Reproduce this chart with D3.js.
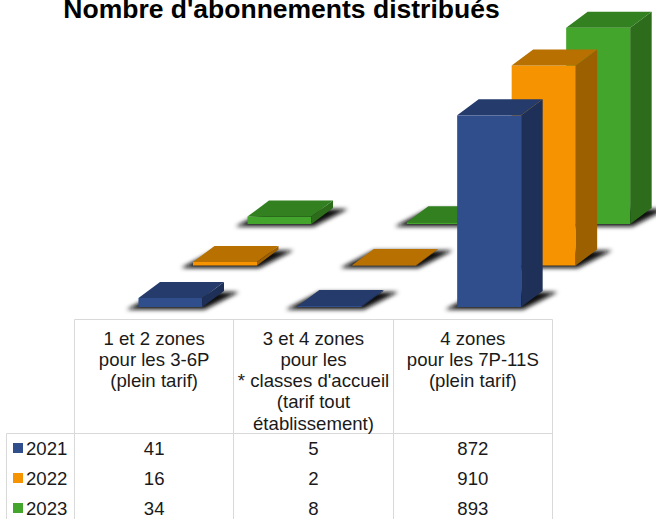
<!DOCTYPE html>
<html>
<head>
<meta charset="utf-8">
<script src="https://cdnjs.cloudflare.com/ajax/libs/d3/7.8.5/d3.min.js"></script>
<style>
  html, body { margin: 0; padding: 0; background: #fff; overflow: hidden; }
  text { font-family: "Liberation Sans", Arial, sans-serif; fill: #1a1a1a; }
</style>
</head>
<body>
<div id="chart"></div>
<script>
const categories = ["1 et 2 zones", "3 et 4 zones", "4 zones"];
const categoryLabels = [
  ["1 et 2 zones", "pour les 3-6P", "(plein tarif)"],
  ["3 et 4 zones", "pour les", "* classes d'accueil", "(tarif tout", "établissement)"],
  ["4 zones", "pour les 7P-11S", "(plein tarif)"]
];
const series = ["2021", "2022", "2023"];
const values2021 = [41, 5, 872];
const values2022 = [16, 2, 910];
const values2023 = [34, 8, 893];
const title = "Nombre d'abonnements distribués";

const seriesValues = [values2021, values2022, values2023];
const front = ["#2f4e8b", "#f59300", "#43a52c"];
const top_ = ["#243b6c", "#b87000", "#32801f"];
const side = ["#1f3058", "#9c6000", "#2c6c1a"];

const width = 656, height = 519;
const floorY = 307, barWidth = 64, depthX = 21.5, depthY = -16, barInset = 64;
const tableTop = 319.5, headerBottom = 433.5, tableLeft = 74.5, tableRight = 552.5, legendLeft = 6.5;

const svg = d3.select("#chart").append("svg")
  .attr("width", width)
  .attr("height", height)
  .style("display", "block");

const defs = svg.append("defs");
defs.append("filter").attr("id", "blur")
  .attr("x", "-30%").attr("y", "-60%").attr("width", "160%").attr("height", "220%")
  .append("feGaussianBlur").attr("stdDeviation", 2.2);

const x = d3.scaleBand().domain(categories).range([tableLeft, tableRight]);
const h = d3.scaleLinear().domain([0, 910]).range([0, 200]);
// each year sits further back on the floor
const backX = d3.scalePoint().domain(series).range([0, 109]);
const backY = d3.scalePoint().domain(series).range([0, -83]);

const bars = [];
series.forEach((s, si) => {
  categories.forEach((c, ci) => {
    bars.push({ s, si, c, value: seriesValues[si][ci] });
  });
});
// paint back to front
bars.sort((a, b) => b.si - a.si);

const poly = pts => pts.map(p => p.join(",")).join(" ");

svg.append("g").selectAll("g")
  .data(bars)
  .join("g")
  .each(function(d) {
    const g = d3.select(this);
    const x0 = x(d.c) + barInset + backX(d.s);
    const x1 = x0 + barWidth;
    const base = floorY + backY(d.s);
    const top = base - h(d.value);

    g.append("polygon")
      .attr("points", poly([[x0 - 12, base + 2.5], [x1 + 2, base + 2.5], [x1 + depthX + 15, base + depthY + 1], [x0 + depthX, base + depthY + 1]]))
      .attr("fill", "#111")
      .attr("filter", "url(#blur)");

    g.append("rect")
      .attr("x", x0).attr("y", top)
      .attr("width", barWidth).attr("height", base - top)
      .attr("fill", front[d.si]);
    g.append("polygon")
      .attr("points", poly([[x1, top], [x1 + depthX, top + depthY], [x1 + depthX, base + depthY], [x1, base]]))
      .attr("fill", side[d.si]);
    g.append("polygon")
      .attr("points", poly([[x0, top], [x0 + depthX, top + depthY], [x1 + depthX, top + depthY], [x1, top]]))
      .attr("fill", top_[d.si]);
  });

// the title runs slightly off the top edge in the original too
svg.append("text")
  .attr("x", 281.5).attr("y", 17.5)
  .attr("text-anchor", "middle")
  .style("font-size", "26.5px")
  .style("font-weight", "bold")
  .style("fill", "#000")
  .text(title);

// data table under the bars
const grid = svg.append("g").attr("stroke", "#d9d9d9").attr("stroke-width", 1).attr("fill", "none");
grid.append("path").attr("d", `M${tableLeft},${tableTop}H${tableRight}`);
grid.append("path").attr("d", `M${legendLeft},${headerBottom}H${tableRight}`);
grid.append("path").attr("d", `M${legendLeft},${headerBottom}V${height}`);
x.domain().concat([null]).forEach(c => {
  const px = c === null ? tableRight : x(c);
  grid.append("path").attr("d", `M${Math.round(px - 0.5) + 0.5},${tableTop}V${height}`);
});

const fontSize = "18.6px";
svg.append("g").selectAll("text")
  .data(categories.flatMap((c, i) => categoryLabels[i].map((line, j) => ({ c, line, j }))))
  .join("text")
  .attr("x", d => x(d.c) + x.bandwidth() / 2)
  .attr("y", d => 344.8 + d.j * 21.2)
  .attr("text-anchor", "middle")
  .style("font-size", fontSize)
  .text(d => d.line);

const rowY = d3.scalePoint().domain(series).range([454.5, 514.5]);

const rows = svg.append("g").selectAll("g")
  .data(series)
  .join("g");

rows.append("rect")
  .attr("x", 13).attr("y", s => rowY(s) - 11.5)
  .attr("width", 10).attr("height", 10)
  .attr("fill", (s, i) => front[i]);

rows.append("text")
  .attr("x", 26).attr("y", rowY)
  .style("font-size", fontSize)
  .text(s => s);

rows.each(function(s, si) {
  d3.select(this).selectAll("text.val")
    .data(seriesValues[si])
    .join("text")
    .attr("class", "val")
    .attr("x", (v, i) => x(categories[i]) + x.bandwidth() / 2)
    .attr("y", rowY(s))
    .attr("text-anchor", "middle")
    .style("font-size", fontSize)
    .text(v => v);
});
</script>
</body>
</html>
